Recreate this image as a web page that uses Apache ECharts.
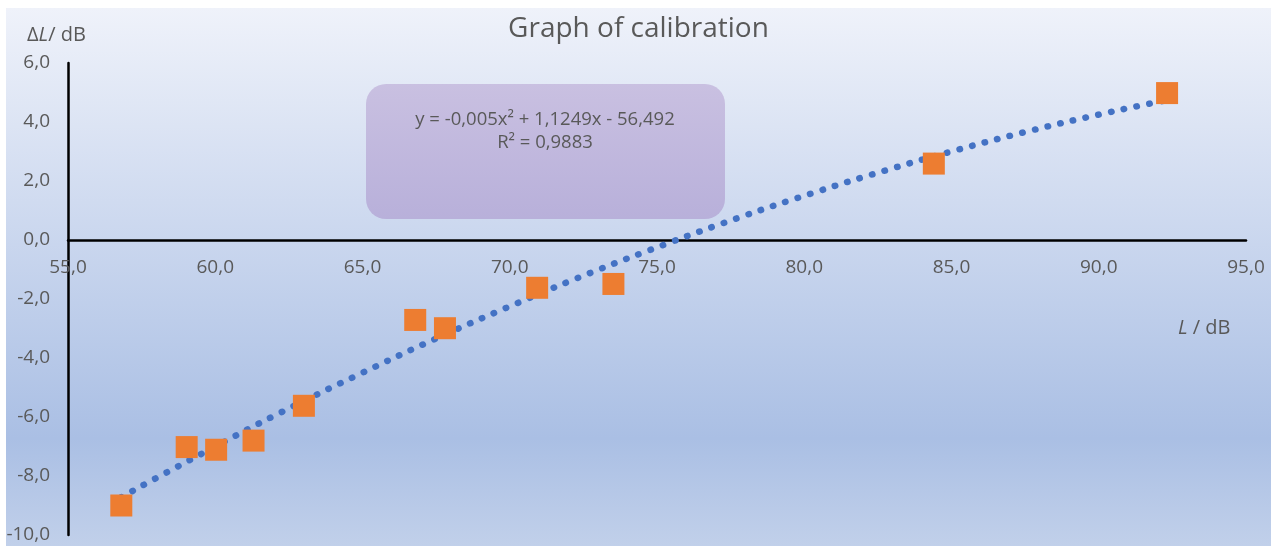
<!DOCTYPE html>
<html>
<head>
<meta charset="utf-8">
<script src="https://cdn.jsdelivr.net/npm/echarts@6/dist/echarts.min.js"></script>
<style>
  html, body { margin: 0; padding: 0; background: #ffffff; }
  #chart { position: absolute; left: 6px; top: 8px; width: 1265px; height: 538px; }
</style>
</head>
<body>
<div id="chart"></div>
<script>
// Measured points (L / dB, ΔL / dB)
const measuredL  = [56.81, 59.03, 60.03, 61.30, 63.01, 66.79, 67.80, 70.93, 73.52, 84.40, 92.32];
const measuredDL = [-9.00, -7.02, -7.11, -6.80, -5.62, -2.71, -2.99, -1.62, -1.49, 2.59, 4.98];

// Trendline points
const trendL  = [56.8, 60.0, 62.5, 65.0, 67.5, 70.0, 72.5, 75.0, 77.5, 80.0, 82.5, 85.0, 87.5, 90.0, 92.3];
const trendDL = [-8.72, -7.00, -5.71, -4.50, -3.34, -2.25, -1.21, -0.25, 0.66, 1.50, 2.28, 3.00, 3.66, 4.25, 4.74];

const xTicks = { min: 55, max: 95, interval: 5 };
const yTicks = { min: -10, max: 6, interval: 2 };

const titleText = 'Graph of calibration';
const equationLines = ['y = -0,005x² + 1,1249x - 56,492', 'R² = 0,9883'];

const fmt = v => v.toFixed(1).replace('.', ',');
const textColor = '#595959';
const fontFam = '"Open Sans", "Noto Sans", sans-serif';

const gridTop = 55, gridHeight = 472;
// x axis crosses the y axis at 0: shift it up from the bottom of the grid
const xAxisOffset = -gridHeight * (0 - yTicks.min) / (yTicks.max - yTicks.min);

const chart = echarts.init(document.getElementById('chart'));
chart.setOption({
  animation: false,
  backgroundColor: {
    type: 'linear', x: 0, y: 0, x2: 0, y2: 1,
    colorStops: [
      { offset: 0, color: '#eff2fa' },
      { offset: 0.80, color: '#aabfe4' },
      { offset: 1, color: '#c1d0ea' }
    ]
  },
  grid: { left: 62, top: gridTop, width: 1178, height: gridHeight, containLabel: false, outerBoundsMode: 'none' },
  xAxis: {
    type: 'value', min: xTicks.min, max: xTicks.max, interval: xTicks.interval,
    position: 'bottom', offset: xAxisOffset,
    axisLine: { onZero: false, lineStyle: { color: '#000', width: 2.5 } },
    axisTick: { show: false },
    splitLine: { show: false },
    axisLabel: { formatter: fmt, color: textColor, fontSize: 19, fontFamily: fontFam, margin: 18,
                 showMinLabel: true, showMaxLabel: true, hideOverlap: false }
  },
  yAxis: {
    type: 'value', min: yTicks.min, max: yTicks.max, interval: yTicks.interval,
    axisLine: { show: true, onZero: false, lineStyle: { color: '#000', width: 2.5 } },
    axisTick: { show: false },
    splitLine: { show: false },
    axisLabel: { formatter: fmt, color: textColor, fontSize: 19, fontFamily: fontFam, margin: 18,
                 showMinLabel: true, showMaxLabel: true, hideOverlap: false }
  },
  graphic: [
    {
      type: 'text', left: 'center', top: 7, z: 10,
      style: { text: titleText, fill: textColor, font: '28px ' + fontFam }
    },
    {
      type: 'rect', z: 1,
      shape: { x: 360, y: 76, width: 359, height: 135, r: 20 },
      style: {
        fill: {
          type: 'linear', x: 0, y: 0, x2: 0, y2: 1,
          colorStops: [ { offset: 0, color: '#c9c0e1' }, { offset: 1, color: '#b8b0da' } ]
        }
      }
    },
    {
      type: 'text', z: 2, x: 539, y: 112,
      style: { text: equationLines[0], fill: textColor, font: '18.5px ' + fontFam, align: 'center', verticalAlign: 'middle' }
    },
    {
      type: 'text', z: 2, x: 539, y: 135,
      style: { text: equationLines[1], fill: textColor, font: '18.5px ' + fontFam, align: 'center', verticalAlign: 'middle' }
    },
    {
      type: 'text', z: 2, x: 21, y: 27,
      style: {
        text: '{a|Δ}{b|L}{a|/ dB}', verticalAlign: 'middle',
        rich: {
          a: { fill: textColor, fontSize: 20, fontFamily: fontFam },
          b: { fill: textColor, fontSize: 20, fontFamily: fontFam, fontStyle: 'italic' }
        }
      }
    },
    {
      type: 'text', z: 2, x: 1172, y: 320,
      style: {
        text: '{b|L}{a| / dB}', verticalAlign: 'middle',
        rich: {
          a: { fill: textColor, fontSize: 20, fontFamily: fontFam },
          b: { fill: textColor, fontSize: 20, fontFamily: fontFam, fontStyle: 'italic' }
        }
      }
    }
  ],
  series: [
    {
      type: 'line', smooth: true, showSymbol: false, z: 2,
      data: trendL.map((x, i) => [x, trendDL[i]]),
      lineStyle: { color: '#4472C4', width: 6.5, type: [0.5, 12.5], cap: 'round' }
    },
    {
      type: 'scatter', symbol: 'rect', symbolSize: 22, z: 3,
      data: measuredL.map((x, i) => [x, measuredDL[i]]),
      itemStyle: { color: '#ED7D31', opacity: 1 }
    }
  ]
});
</script>
</body>
</html>
